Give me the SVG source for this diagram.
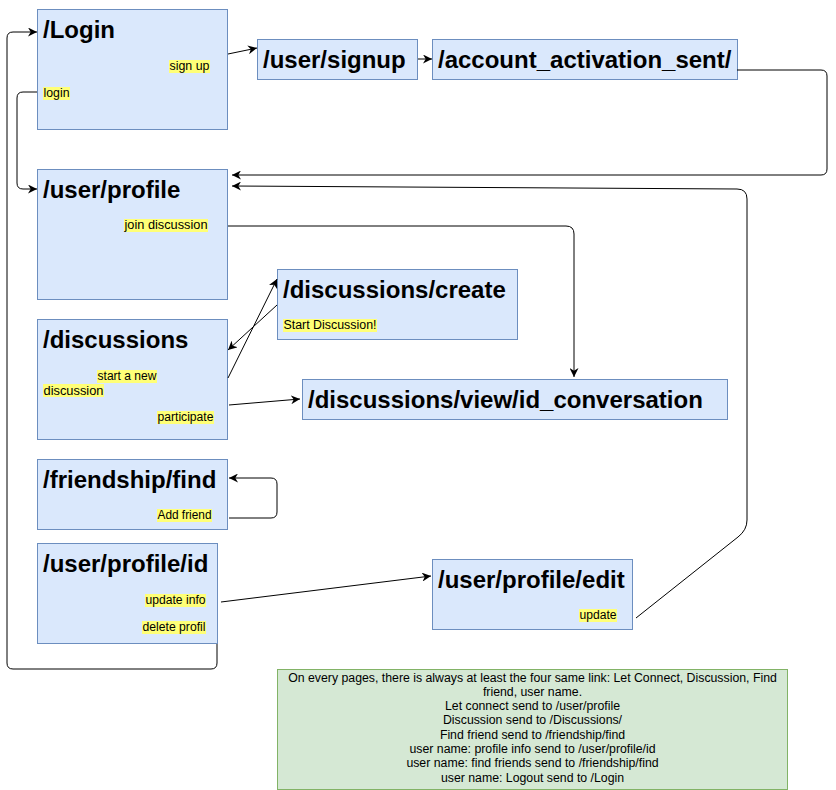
<svg xmlns="http://www.w3.org/2000/svg" width="836" height="790" viewBox="0 0 836 790">
<style>
.node{fill:#dae8fc;stroke:#6c8ebf;stroke-width:1}
.note{fill:#d5e8d4;stroke:#82b366;stroke-width:1}
.title{font-family:"Liberation Sans",Arial,sans-serif;font-weight:bold;font-size:24px;fill:#000}
.lbl{font-family:"Liberation Sans",Arial,sans-serif;font-size:12.5px;fill:#000}
.hl{fill:#ffff77}
.ntxt{font-family:"Liberation Sans",Arial,sans-serif;font-size:12.3px;fill:#000;text-anchor:middle}
.edge{fill:none;stroke:#000;stroke-width:1;marker-end:url(#arr)}
</style>
<defs>
<marker id="arr" viewBox="0 0 10 10" refX="10" refY="5" markerWidth="9" markerHeight="9" markerUnits="userSpaceOnUse" orient="auto">
<path d="M0,0 L10,5 L0,10 L3,5 z" fill="#000"/>
</marker>
</defs>
<rect width="836" height="790" fill="#fff"/>

<g id="node-login">
<rect class="node" x="37.5" y="9.5" width="190" height="120"/>
<text class="title" x="43" y="37.5">/Login</text>
<rect class="hl" x="169" y="60" width="41" height="13"/>
<text class="lbl" x="169.5" y="70" textLength="40" lengthAdjust="spacingAndGlyphs">sign up</text>
<rect class="hl" x="43" y="87" width="27" height="13"/>
<text class="lbl" x="43.5" y="97" textLength="26" lengthAdjust="spacingAndGlyphs">login</text>
</g>

<g id="node-signup">
<rect class="node" x="257.5" y="39.5" width="160" height="40"/>
<text class="title" x="263" y="67.5">/user/signup</text>
</g>

<g id="node-activation">
<rect class="node" x="432.5" y="39.5" width="305" height="40"/>
<text class="title" x="438" y="67.5">/account_activation_sent/</text>
</g>

<g id="node-profile">
<rect class="node" x="37.5" y="169.5" width="190" height="130"/>
<text class="title" x="43" y="197.5">/user/profile</text>
<rect class="hl" x="124" y="219" width="84" height="13"/>
<text class="lbl" x="124.5" y="229" textLength="83" lengthAdjust="spacingAndGlyphs">join discussion</text>
</g>

<g id="node-create">
<rect class="node" x="277.5" y="269.5" width="240" height="70"/>
<text class="title" x="283" y="297.5">/discussions/create</text>
<rect class="hl" x="283" y="319" width="94" height="13"/>
<text class="lbl" x="283.5" y="329" textLength="93" lengthAdjust="spacingAndGlyphs">Start Discussion!</text>
</g>

<g id="node-discussions">
<rect class="node" x="37.5" y="319.5" width="190" height="120"/>
<text class="title" x="43" y="347.5">/discussions</text>
<rect class="hl" x="97" y="370" width="60" height="13"/>
<text class="lbl" x="97.5" y="380" textLength="59" lengthAdjust="spacingAndGlyphs">start a new</text>
<rect class="hl" x="43" y="384" width="61" height="13"/>
<text class="lbl" x="43.5" y="395" textLength="60" lengthAdjust="spacingAndGlyphs">discussion</text>
<rect class="hl" x="157" y="411" width="57" height="13"/>
<text class="lbl" x="157.5" y="421" textLength="56" lengthAdjust="spacingAndGlyphs">participate</text>
</g>

<g id="node-view">
<rect class="node" x="302.5" y="379.5" width="425" height="40"/>
<text class="title" x="308" y="407.5">/discussions/view/id_conversation</text>
</g>

<g id="node-friendship">
<rect class="node" x="37.5" y="459.5" width="190" height="70"/>
<text class="title" x="43" y="487.5">/friendship/find</text>
<rect class="hl" x="157" y="509" width="55" height="13"/>
<text class="lbl" x="157.5" y="519" textLength="54" lengthAdjust="spacingAndGlyphs">Add friend</text>
</g>

<g id="node-profile-id">
<rect class="node" x="37.5" y="543.5" width="180" height="100"/>
<text class="title" x="43" y="571.5">/user/profile/id</text>
<rect class="hl" x="145" y="594" width="61" height="13"/>
<text class="lbl" x="145.5" y="604" textLength="60" lengthAdjust="spacingAndGlyphs">update info</text>
<rect class="hl" x="142" y="621" width="64" height="13"/>
<text class="lbl" x="142.5" y="631" textLength="63" lengthAdjust="spacingAndGlyphs">delete profil</text>
</g>

<g id="node-profile-edit">
<rect class="node" x="432.5" y="559.5" width="200" height="70"/>
<text class="title" x="438" y="587.5">/user/profile/edit</text>
<rect class="hl" x="579" y="609" width="38" height="13"/>
<text class="lbl" x="579.5" y="619" textLength="37" lengthAdjust="spacingAndGlyphs">update</text>
</g>

<g id="node-note">
<rect class="note" x="277.5" y="669.5" width="510" height="120"/>
<text class="ntxt" x="532.5" y="681.5">On every pages, there is always at least the four same link: Let Connect, Discussion, Find</text>
<text class="ntxt" x="532.5" y="695.8">friend, user name.</text>
<text class="ntxt" x="532.5" y="710.1">Let connect send to /user/profile</text>
<text class="ntxt" x="532.5" y="724.4">Discussion send to /Discussions/</text>
<text class="ntxt" x="532.5" y="738.7">Find friend send to /friendship/find</text>
<text class="ntxt" x="532.5" y="753">user name: profile info send to /user/profile/id</text>
<text class="ntxt" x="532.5" y="767.3">user name: find friends send to /friendship/find</text>
<text class="ntxt" x="532.5" y="781.6">user name: Logout send to /Login</text>
</g>

<g id="connectors">
<path class="edge" d="M228,54 L257,48"/>
<path class="edge" d="M418,59 L432,59"/>
<path class="edge" d="M737,70 L821,70 Q827,70 827,76 L827,169 Q827,175 821,175 L232,175"/>
<path class="edge" d="M636,618 L738,537 Q747,530 747,520 L747,199 Q747,189 737,189 L232,186"/>
<path class="edge" d="M228,226 L566,226 Q574,226 574,234 L574,377"/>
<path class="edge" d="M228,378 L277,279"/>
<path class="edge" d="M277,305 L228,350"/>
<path class="edge" d="M229,405 L300,399"/>
<path class="edge" d="M229,518 L271,518 Q277,518 277,512 L277,484 Q277,478 271,478 L229,478"/>
<path class="edge" d="M221,602 L431,576"/>
<path class="edge" d="M217,644 L217,663 Q217,669 211,669 L13,669 Q7,669 7,663 L7,38 Q7,32 13,32 L37,32"/>
<path class="edge" d="M37,92 L23,92 Q17,92 17,98 L17,183 Q17,189 23,189 L37,189"/>
</g>
</svg>
